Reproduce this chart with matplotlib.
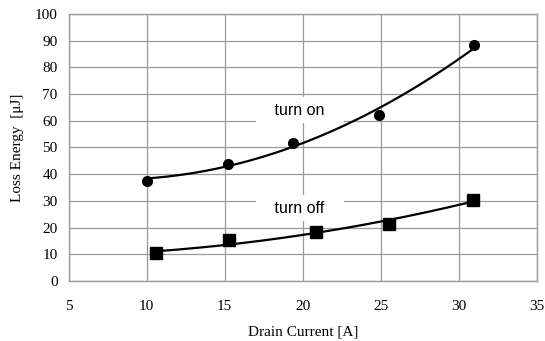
import numpy as np
from matplotlib import pyplot as plt

on_current = [10.0, 15.2, 19.35, 24.9, 31.0]
on_energy = [37.6, 44.0, 51.8, 62.0, 88.3]
off_current = [10.6, 15.3, 20.85, 25.5, 30.9]
off_energy = [10.3, 15.2, 18.2, 21.2, 30.5]

x_ticks = [5, 10, 15, 20, 25, 30, 35]
y_ticks = list(range(0, 101, 10))

grid_color = "#9a9a9a"

fig = plt.figure(figsize=(5.45, 3.41), dpi=100)
ax = fig.add_axes([0.126, 0.176, 0.859, 0.783])

# 2nd order trend lines like the spreadsheet ones
for xs, ys, marker, ms in [(on_current, on_energy, "o", 7),
                           (off_current, off_energy, "s", 8)]:
    coef = np.polyfit(xs, ys, 2)
    xx = np.linspace(min(xs), max(xs), 200)
    ax.plot(xx, np.polyval(coef, xx), color="black", lw=1.6, zorder=3)
    ax.plot(xs, ys, linestyle="none", marker=marker, ms=ms,
            color="black", zorder=4)

ax.set_xlim(5, 35)
ax.set_ylim(0, 100)
ax.set_xticks(x_ticks)
ax.set_yticks(y_ticks)
ax.grid(True, color=grid_color, lw=0.9)
ax.set_axisbelow(True)
for s in ax.spines.values():
    s.set_color(grid_color)
    s.set_linewidth(1.0)
ax.tick_params(length=0, labelsize=11, colors="black")
ax.tick_params(axis="x", pad=14)
ax.tick_params(axis="y", pad=8)
for lab in ax.get_xticklabels() + ax.get_yticklabels():
    lab.set_family("Liberation Serif")

ax.set_xlabel("Drain Current [A]", family="Liberation Serif", fontsize=11,
              labelpad=9)
ax.set_ylabel("Loss Energy  [\u03bcJ]", family="Liberation Serif", fontsize=11,
              labelpad=8)

box = dict(boxstyle="square,pad=0.35", fc="white", ec="none")
ax.text(19.8, 64, "   turn on   ", family="Liberation Sans", fontsize=11.5,
        ha="center", va="center", bbox=box, zorder=2)
ax.text(19.8, 27.3, "   turn off   ", family="Liberation Sans", fontsize=11.5,
        ha="center", va="center", bbox=box, zorder=2)

fig.savefig("out.png", dpi=100)
